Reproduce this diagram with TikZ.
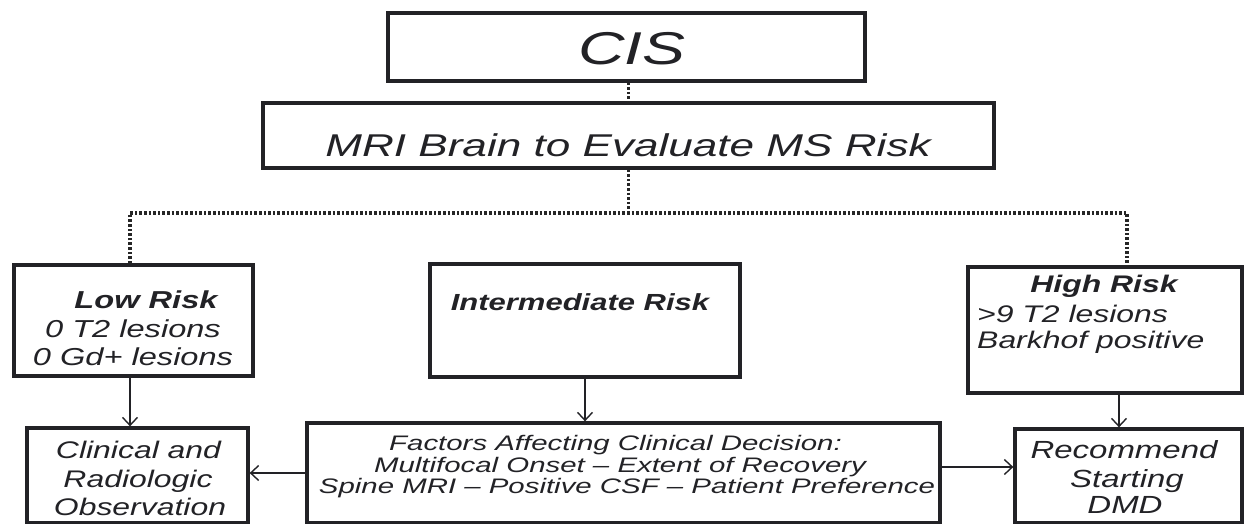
\documentclass[tikz,border=0pt]{standalone}
\usepackage{fontspec}
\setmainfont{Liberation Sans}[FakeStretch=1.4]
\newfontfamily\boxfont{Liberation Sans}[FakeStretch=1.33]
\usetikzlibrary{arrows.meta,shadows}
\definecolor{ink}{HTML}{222226}
\newcommand{\setfs}[1]{\fontsize{#1}{#1}\selectfont}
\tikzset{
  box/.style={draw=ink, line width=3.3pt, fill=white, rectangle, inner sep=0pt,
    drop shadow={shadow xshift=1.5pt, shadow yshift=-1.5pt, opacity=0.35, fill=gray}},
  txt/.style={text=ink, inner sep=0pt, anchor=base, font=\itshape},
  btxt/.style={text=ink, inner sep=0pt, anchor=base, font=\boxfont\itshape},
  tbold/.style={text=ink, inner sep=0pt, anchor=base, font=\boxfont\bfseries\itshape},
  dots/.style={draw=black!85, line width=3.6pt, dash pattern=on 2.6pt off 2pt},
  arr/.style={draw=ink, line width=1.4pt, -{Straight Barb[length=8pt,width=15pt,line width=1.4pt]}}
}
\begin{document}
\begin{tikzpicture}[x=1pt,y=-1pt]
\clip (0,0) rectangle (1245,524);
\useasboundingbox (0,0) rectangle (1245,524);
% boxes
\node[box, minimum width=477pt, minimum height=68pt] (cis) at (626.5,47) {};
\node[box, minimum width=731pt, minimum height=65pt] (mri) at (628.5,135.5) {};
\node[box, minimum width=239pt, minimum height=111pt] (low) at (133.5,320.5) {};
\node[box, minimum width=310pt, minimum height=113pt] (inter) at (585,320.5) {};
\node[box, minimum width=274pt, minimum height=126pt] (high) at (1105,330) {};
\node[box, minimum width=221pt, minimum height=95pt] (clin) at (137.5,475.5) {};
\node[box, minimum width=633pt, minimum height=100pt] (fact) at (623.5,473) {};
\node[box, minimum width=227pt, minimum height=94pt] (rec) at (1128.5,476) {};
% texts
\node[txt] (cisT) at (632,65) {\setfs{46}CIS};
\node[txt] (mriT) at (628,157) {\setfs{31.5}MRI Brain to Evaluate MS Risk};
\node[tbold] (lowT) at (146,308) {\setfs{24.5}Low Risk};
\node[btxt] (low2) at (133,337) {\setfs{24.5}0 T2 lesions};
\node[btxt] (low3) at (133,365) {\setfs{24.5}0 Gd+ lesions};
\node[tbold] (interT) at (580,310) {\setfs{23.3}Intermediate Risk};
\node[tbold] (highT) at (1104,292) {\setfs{24}High Risk};
\node[btxt, anchor=base west] (high2) at (977,322) {\setfs{24}>9 T2 lesions};
\node[btxt, anchor=base west] (high3) at (977,348) {\setfs{24}Barkhof positive};
\node[btxt] (clin1) at (138.5,458) {\setfs{24}Clinical and};
\node[btxt] (clin2) at (138,487) {\setfs{24}Radiologic};
\node[btxt] (clin3) at (140,515) {\setfs{24}Observation};
\node[txt] (fact1) at (615.5,450) {\setfs{21}Factors Affecting Clinical Decision:};
\node[txt] (fact2) at (620,472) {\setfs{21}Multifocal Onset – Extent of Recovery};
\node[txt] (fact3) at (627,493) {\setfs{21}Spine MRI – Positive CSF – Patient Preference};
\node[btxt] (rec1) at (1124,458) {\setfs{24.8}Recommend};
\node[btxt] (rec2) at (1127,487) {\setfs{24.8}Starting};
\node[btxt] (rec3) at (1125,513) {\setfs{24.8}DMD};
% dotted tree
\coordinate (jl) at (130,213);
\coordinate (jr) at (1127,213);
\coordinate (ha) at (1119,393);
\draw[dots] (mri.north |- cis.south) -- (mri.north);
\draw[dots] (mri.south) -- (mri.south |- jl);
\draw[dots] (jl |- low.north) -- (jl) -- (jr) -- (jr |- high.north);
% arrows
\draw[arr] (jl |- low.south) -- (jl |- clin.north);
\draw[arr] (inter.south) -- (inter.south |- fact.north);
\draw[arr] (ha |- high.south) -- (ha |- rec.north);
\draw[arr] (fact.west) -- (fact.west -| clin.east);
\draw[arr] ([yshift=6pt]fact.east) -- ([yshift=6pt]fact.east -| rec.west);
\end{tikzpicture}
\end{document}
